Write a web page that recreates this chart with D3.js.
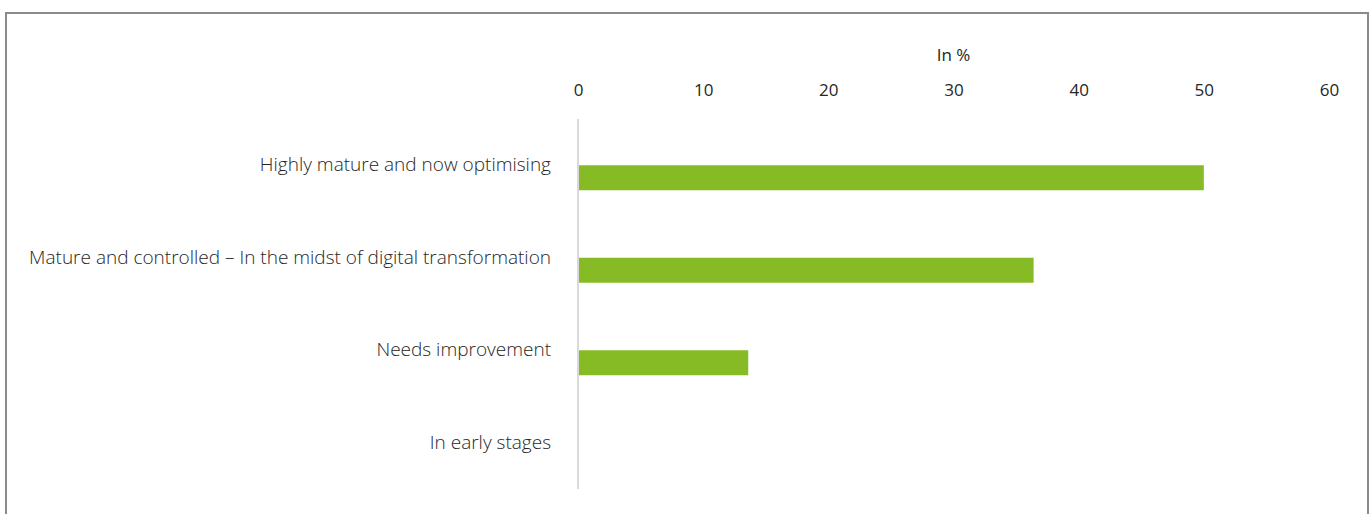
<!DOCTYPE html>
<html>
<head>
<meta charset="utf-8">
<script src="https://cdn.jsdelivr.net/npm/d3@7"></script>
<style>
  html, body { margin: 0; padding: 0; background: #fff; }
  svg { display: block; }
  text { font-family: "Open Sans", "Noto Sans", sans-serif; font-weight: 300; fill: #262626; }
</style>
</head>
<body>
<svg id="chart" width="1370" height="514"></svg>
<script>
// Digital maturity self-assessment, share of respondents (in %)
const categories = [
  "Highly mature and now optimising",
  "Mature and controlled \u2013 In the midst of digital transformation",
  "Needs improvement",
  "In early stages"
];
const shares = [50, 36.4, 13.6, 0];
const tickValues = [0, 10, 20, 30, 40, 50, 60];
const axisTitle = "In %";

const svg = d3.select("#chart");

// outer frame (bottom edge falls outside the view)
svg.append("rect")
  .attr("x", 6).attr("y", 13)
  .attr("width", 1362).attr("height", 520)
  .attr("fill", "none")
  .attr("stroke", "#8a8a8a")
  .attr("stroke-width", 2);

const plot = { left: 578, right: 1329, top: 119, bottom: 489 };

const x = d3.scaleLinear().domain([0, 60]).range([plot.left, plot.right]);
const y = d3.scaleBand().domain(categories).range([plot.top, plot.bottom]);
const barH = 25;

// value axis on top, labels only
const xAxis = d3.axisTop(x).tickValues(tickValues).tickSize(0).tickPadding(0);
const gx = svg.append("g")
  .attr("transform", "translate(0,96)")
  .call(xAxis);
gx.select(".domain").remove();
gx.selectAll("text")
  .attr("font-size", 17)
  .style("font-family", "'Open Sans', sans-serif")
  .style("font-weight", 400)
  .attr("fill", "#333");

svg.append("text")
  .attr("x", x(30))
  .attr("y", 61)
  .attr("text-anchor", "middle")
  .attr("font-size", 17)
  .style("font-weight", 400)
  .attr("fill", "#333")
  .text(axisTitle);

// category axis line
svg.append("line")
  .attr("x1", x(0)).attr("x2", x(0))
  .attr("y1", plot.top).attr("y2", plot.bottom)
  .attr("stroke", "#d9d9d9")
  .attr("stroke-width", 2);

// bars sit just below each band centre
svg.append("g").selectAll("rect")
  .data(shares)
  .join("rect")
  .attr("x", x(0) + 1)
  .attr("y", (d, i) => y(categories[i]) + y.bandwidth() / 2)
  .attr("width", d => Math.max(0, x(d) - x(0) - 1))
  .attr("height", barH)
  .attr("fill", "#86bb26");

// category labels
svg.append("g").selectAll("text")
  .data(categories)
  .join("text")
  .attr("x", 551)
  .attr("y", d => y(d) + y.bandwidth() / 2 + 6)
  .attr("text-anchor", "end")
  .attr("font-size", 19)
  .text(d => d);
</script>
</body>
</html>
